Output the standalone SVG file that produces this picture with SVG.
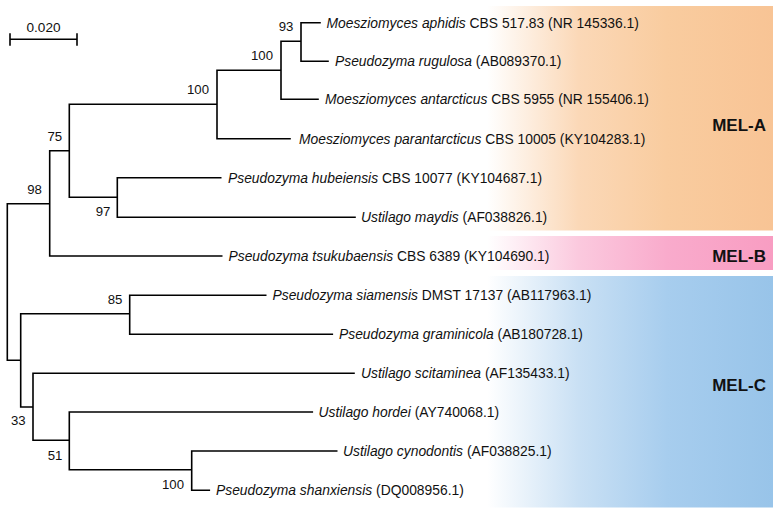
<svg xmlns="http://www.w3.org/2000/svg" width="780" height="516" viewBox="0 0 780 516">
<style>
.br{fill:none;stroke:#000;stroke-width:1.6;stroke-linecap:square}
.lf{font-family:"Liberation Sans",Arial,sans-serif;font-size:13.85px;fill:#111}
.lf .i{font-style:italic}
.bs{font-family:"Liberation Sans",Arial,sans-serif;font-size:13.2px;fill:#111;text-anchor:middle}
.cl{font-family:"Liberation Sans",Arial,sans-serif;font-size:17px;font-weight:bold;fill:#111;text-anchor:end}
</style>
<defs>
<linearGradient id="gA" x1="0" x2="1" y1="0" y2="0">
<stop offset="0" stop-color="#fff"/><stop offset="0.19" stop-color="#fff"/><stop offset="0.45" stop-color="#fbd8b7"/><stop offset="0.7" stop-color="#f9cc9f"/><stop offset="1" stop-color="#f8c495"/>
</linearGradient>
<linearGradient id="gB" x1="0" x2="1" y1="0" y2="0">
<stop offset="0" stop-color="#fff"/><stop offset="0.19" stop-color="#fff"/><stop offset="0.45" stop-color="#fbc9de"/><stop offset="0.7" stop-color="#f9abcc"/><stop offset="1" stop-color="#f89dc2"/>
</linearGradient>
<linearGradient id="gC" x1="0" x2="1" y1="0" y2="0">
<stop offset="0" stop-color="#fff"/><stop offset="0.19" stop-color="#fff"/><stop offset="0.45" stop-color="#c9e0f4"/><stop offset="0.7" stop-color="#a7cdee"/><stop offset="1" stop-color="#98c4e9"/>
</linearGradient>
</defs>
<rect width="780" height="516" fill="#fff"/>
<g id="bands">
<rect x="420" y="6" width="353" height="224.5" fill="url(#gA)"/>
<rect x="420" y="236" width="353" height="34" fill="url(#gB)"/>
<rect x="420" y="276" width="353" height="231.5" fill="url(#gC)"/>
</g>
<g id="scale-bar">
<path class="br" d="M10,39.3H77M10,34V45M77,34V45"/>
<text class="bs" x="43.5" y="32" style="font-size:13.6px">0.020</text>
</g>
<g id="connectors">
<path class="br" d="M7.3,203.7V360.3
M7.3,203.7H49.7M49.7,150.7V256M49.7,256H221.7
M49.7,150.7H69.3M69.3,104.3V197.3
M69.3,104.3H217M217,70.3V138.7M217,138.7H290
M217,70.3H281M281,41.3V99.3M281,99.3H318
M281,41.3H301M301,22.7V61.3M301,22.7H320M301,61.3H328
M69.3,197.3H117.3M117.3,177.7V217.3M117.3,177.7H220.7M117.3,217.3H355
M7.3,360.3H20.7M20.7,313.7V407
M20.7,313.7H129.7M129.7,295.3V334.3M129.7,295.3H265.7M129.7,334.3H332.3
M20.7,407H33M33,373.3V440.3M33,373.3H354
M33,440.3H69.3M69.3,412V469.7M69.3,412H312.3
M69.3,469.7H191.7M191.7,451V490.3M191.7,451H336.7M191.7,490.3H209.3"/>
</g>
<g id="support">
<text class="bs" x="286" y="30.7">93</text>
<text class="bs" x="262" y="60">100</text>
<text class="bs" x="198" y="94.3">100</text>
<text class="bs" x="54.8" y="141">75</text>
<text class="bs" x="34.5" y="193.5">98</text>
<text class="bs" x="103" y="215.7">97</text>
<text class="bs" x="115" y="303.7">85</text>
<text class="bs" x="18.3" y="425.3">33</text>
<text class="bs" x="55" y="460.3">51</text>
<text class="bs" x="173" y="489.3">100</text>
</g>
<g id="taxa">
<text id="t1" class="lf" x="326.5" y="27.5"><tspan class="i">Moesziomyces aphidis</tspan> CBS 517.83 (NR 145336.1)</text>
<text id="t2" class="lf" x="335" y="66.1"><tspan class="i">Pseudozyma rugulosa</tspan> (AB089370.1)</text>
<text id="t3" class="lf" x="325" y="104.1"><tspan class="i">Moesziomyces antarcticus</tspan> CBS 5955 (NR 155406.1)</text>
<text id="t4" class="lf" x="299" y="143.5"><tspan class="i">Moesziomyces parantarcticus</tspan> CBS 10005 (KY104283.1)</text>
<text id="t5" class="lf" x="228" y="182.5"><tspan class="i">Pseudozyma hubeiensis</tspan> CBS 10077 (KY104687.1)</text>
<text id="t6" class="lf" x="361" y="222.1"><tspan class="i">Ustilago maydis</tspan> (AF038826.1)</text>
<text id="t7" class="lf" x="228.5" y="260.8"><tspan class="i">Pseudozyma tsukubaensis</tspan> CBS 6389 (KY104690.1)</text>
<text id="t8" class="lf" x="272.5" y="300.1"><tspan class="i">Pseudozyma siamensis</tspan> DMST 17137 (AB117963.1)</text>
<text id="t9" class="lf" x="339" y="339.1"><tspan class="i">Pseudozyma graminicola</tspan> (AB180728.1)</text>
<text id="t10" class="lf" x="361" y="378.1"><tspan class="i">Ustilago scitaminea</tspan> (AF135433.1)</text>
<text id="t11" class="lf" x="318.5" y="416.8"><tspan class="i">Ustilago hordei</tspan> (AY740068.1)</text>
<text id="t12" class="lf" x="343" y="455.8"><tspan class="i">Ustilago cynodontis</tspan> (AF038825.1)</text>
<text id="t13" class="lf" x="216" y="495.1"><tspan class="i">Pseudozyma shanxiensis</tspan> (DQ008956.1)</text>
</g>
<g id="clades">
<text class="cl" x="766" y="131">MEL-A</text>
<text class="cl" x="766" y="261.7">MEL-B</text>
<text class="cl" x="766" y="391">MEL-C</text>
</g>
</svg>
